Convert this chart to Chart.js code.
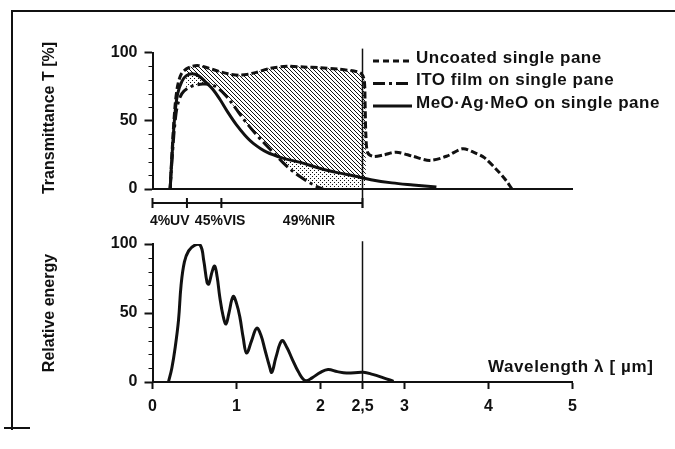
<!DOCTYPE html>
<html>
<head>
<meta charset="utf-8">
<script src="https://cdn.jsdelivr.net/npm/chart.js@4.4.1/dist/chart.umd.min.js"></script>
<style>
  body { margin: 0; background: #fff; }
  #wrap { position: relative; width: 675px; height: 449px; overflow: hidden; background: #fff; }
  #wrap canvas { position: absolute; left: 0; }
  #frame { position: absolute; left: 11px; top: 10px; width: 680px; height: 418px; border-top: 2px solid #111; border-left: 2px solid #111; }
  #stub { position: absolute; left: 4px; top: 427px; width: 26px; border-top: 2px solid #111; }
</style>
</head>
<body>
<div id="wrap">
  <div id="frame"></div>
  <div id="stub"></div>
  <canvas id="transChart" width="675" height="235" style="top:0"></canvas>
  <canvas id="energyChart" width="675" height="224" style="top:225px"></canvas>
</div>
<script>
// wavelength in um, transmittance in %
const uncoatedWl = [0.21, 0.24, 0.27, 0.30, 0.34, 0.40, 0.47, 0.55, 0.65, 0.78, 0.9, 1.04, 1.2, 1.4, 1.6, 1.8, 2.0, 2.2, 2.4, 2.48, 2.52, 2.53, 2.54, 2.56, 2.62, 2.75, 2.9, 3.1, 3.3, 3.5, 3.69, 3.82, 3.95, 4.1, 4.2, 4.28];
const uncoatedT = [0, 35, 62, 76, 84, 88, 90, 90.5, 89, 86.5, 84.5, 83.5, 85, 88.5, 90, 89.5, 89, 88, 86.5, 85, 80, 65, 40, 27, 24, 25, 27, 24, 21, 24, 29.5, 27, 23, 14, 7, 0];

const itoWl = [0.21, 0.24, 0.27, 0.30, 0.35, 0.42, 0.5, 0.6, 0.7, 0.78, 0.88, 0.98, 1.1, 1.22, 1.34, 1.45, 1.56, 1.66, 1.76, 1.86, 1.95, 2.03];
const itoT = [0, 28, 50, 62, 70, 74, 76, 77, 76.5, 74, 68, 60, 50, 41, 33, 26, 19, 13.5, 9, 5, 2, 0];

const meoWl = [0.21, 0.24, 0.27, 0.30, 0.35, 0.40, 0.47, 0.55, 0.64, 0.72, 0.8, 0.9, 1.0, 1.1, 1.2, 1.36, 1.56, 1.76, 2.0, 2.2, 2.4, 2.6, 2.85, 3.1, 3.38];
const meoT = [0, 32, 57, 70, 79, 83, 84.5, 83, 78, 73, 66, 56, 47, 39.5, 33.5, 27, 22.5, 19.5, 15, 12, 9.5, 6.8, 4.5, 3, 1.5];

// solar spectrum, relative energy
const energyWl = [0.19, 0.23, 0.27, 0.31, 0.34, 0.38, 0.43, 0.5, 0.57, 0.61, 0.65, 0.67, 0.71, 0.74, 0.77, 0.8, 0.84, 0.875, 0.91, 0.96, 1.0, 1.04, 1.08, 1.12, 1.18, 1.24, 1.29, 1.34, 1.39, 1.42, 1.47, 1.54, 1.6, 1.66, 1.74, 1.82, 1.9, 2.0, 2.09, 2.2, 2.31, 2.51, 2.62, 2.75, 2.87];
const energyVal = [0, 10, 25, 45, 70, 87, 95, 99, 99, 88, 72, 71, 80, 84, 76, 62, 48, 42, 50, 62, 57, 47, 32, 21, 30, 39, 34, 23, 12, 7, 18, 30, 25, 17, 7, 1, 3, 7, 9, 7.5, 6.5, 7, 5.5, 3, 0.5];

const seriesNames = ['Uncoated single pane', 'ITO film on single pane', 'MeO\u00B7Ag\u00B7MeO on single pane'];
const bandEdges = [0, 0.41, 0.82, 2.5];
const bandLabels = ['4%UV', '45%VIS', '49%NIR'];
const xTickValues = [0, 1, 2, 2.5, 3, 4, 5];
const xTickLabels = ['0', '1', '2', '2,5', '3', '4', '5'];

const ink = '#111';
const fontFamily = '"Liberation Sans", Arial, sans-serif';
Chart.defaults.font.family = fontFamily;
Chart.defaults.font.size = 16;
Chart.defaults.font.weight = 'bold';
Chart.defaults.color = ink;

const toPoints = (xs, ys) => xs.map((x, i) => ({x: x, y: ys[i]}));
const shadeStart = 0.4;
const shadeEnd = 2.55;

function makeHatch() {
    const c = document.createElement('canvas');
    c.width = 4; c.height = 4;
    const g = c.getContext('2d');
    g.strokeStyle = ink;
    g.lineWidth = 1.0;
    for (let k = -1; k <= 1; k++) {
        g.beginPath();
        g.moveTo(0, k * 4);
        g.lineTo(4, 4 + k * 4);
        g.stroke();
    }
    return g.createPattern(c, 'repeat');
}

function makeDots() {
    const c = document.createElement('canvas');
    c.width = 4; c.height = 4;
    const g = c.getContext('2d');
    g.fillStyle = ink;
    g.fillRect(0, 0, 1, 1);
    g.fillRect(2, 2, 1, 1);
    return g.createPattern(c, 'repeat');
}

const uncoatedPts = toPoints(uncoatedWl, uncoatedT);
const itoPts = toPoints(itoWl, itoT);
const meoPts = toPoints(meoWl, meoT);
const shadePts = uncoatedPts.filter(p => p.x >= shadeStart && p.x <= shadeEnd);
// ITO curve continued along the baseline so the dotted area reaches the band end
const itoFloor = itoPts.concat([{x: shadeEnd, y: 0}]);
const gapPts = meoPts.filter(p => p.x >= 0.55 && p.x <= 1.56);

const clear = 'rgba(0,0,0,0)';

function minorTicks(chart) {
    const {ctx, scales: {x, y}} = chart;
    ctx.save();
    ctx.strokeStyle = ink;
    ctx.lineWidth = 1;
    y.ticks.forEach(t => {
        if (t.value % 50 === 0) return;
        const py = Math.round(y.getPixelForValue(t.value)) + 0.5;
        ctx.beginPath();
        ctx.moveTo(x.left - 4, py);
        ctx.lineTo(x.left, py);
        ctx.stroke();
    });
    ctx.restore();
}

function setFont(ctx, size, spacing) {
    ctx.font = 'bold ' + size + 'px ' + fontFamily;
    if ('letterSpacing' in ctx) ctx.letterSpacing = spacing;
}

function rotatedTitle(ctx, text, cx, cy) {
    ctx.save();
    ctx.translate(cx, cy);
    ctx.rotate(-Math.PI / 2);
    ctx.textAlign = 'center';
    ctx.textBaseline = 'middle';
    ctx.fillStyle = ink;
    setFont(ctx, 16, '0px');
    ctx.fillText(text, 0, 0);
    ctx.restore();
}

const transDecor = {
    id: 'transDecor',
    afterDraw(chart) {
        const {ctx, scales: {x, y}} = chart;
        minorTicks(chart);
        ctx.save();
        ctx.strokeStyle = ink;
        ctx.fillStyle = ink;

        // band bar under the axis
        const bandEnd = bandEdges[bandEdges.length - 1];
        const xe = x.getPixelForValue(bandEnd);
        const barY = y.getPixelForValue(0) + 14;
        ctx.lineWidth = 1.5;
        ctx.beginPath();
        ctx.moveTo(xe, y.getPixelForValue(103));
        ctx.lineTo(xe, barY + 5);
        ctx.stroke();

        ctx.lineWidth = 2;
        ctx.beginPath();
        ctx.moveTo(x.getPixelForValue(bandEdges[0]), barY);
        ctx.lineTo(xe, barY);
        ctx.stroke();
        bandEdges.forEach(v => {
            const px = x.getPixelForValue(v);
            ctx.beginPath();
            ctx.moveTo(px, barY - 5);
            ctx.lineTo(px, barY + 5);
            ctx.stroke();
        });

        const labelShift = [0, 16, 17];
        setFont(ctx, 14, '0px');
        ctx.textAlign = 'center';
        ctx.textBaseline = 'middle';
        bandLabels.forEach((lab, i) => {
            const mid = (x.getPixelForValue(bandEdges[i]) + x.getPixelForValue(bandEdges[i + 1])) / 2;
            ctx.fillText(lab, mid + labelShift[i], barY + 18);
        });

        // legend
        const dashes = [[6, 4], [12, 4, 3, 4], []];
        const lx = 373, tx = 416;
        setFont(ctx, 17, '0.5px');
        ctx.textAlign = 'left';
        seriesNames.forEach((name, i) => {
            const ty = 58 + i * 22.5;
            ctx.lineWidth = 3;
            ctx.setLineDash(dashes[i]);
            ctx.beginPath();
            ctx.moveTo(lx, ty + 3);
            ctx.lineTo(tx - 4, ty + 3);
            ctx.stroke();
            ctx.setLineDash([]);
            ctx.fillText(name, tx, ty);
        });
        ctx.restore();

        rotatedTitle(ctx, 'Transmittance T [%]', 50, 118);
    }
};

const energyDecor = {
    id: 'energyDecor',
    afterDraw(chart) {
        const {ctx, scales: {x, y}} = chart;
        minorTicks(chart);
        ctx.save();
        ctx.strokeStyle = ink;
        ctx.fillStyle = ink;
        const xe = x.getPixelForValue(bandEdges[bandEdges.length - 1]);
        ctx.lineWidth = 1.5;
        ctx.beginPath();
        ctx.moveTo(xe, y.getPixelForValue(102));
        ctx.lineTo(xe, y.getPixelForValue(0));
        ctx.stroke();

        setFont(ctx, 17, '0.6px');
        ctx.textAlign = 'left';
        ctx.textBaseline = 'middle';
        ctx.fillText('Wavelength \u03BB [ \u00B5m]', 488, y.getPixelForValue(11));
        ctx.restore();

        rotatedTitle(ctx, 'Relative energy', 50, y.getPixelForValue(50));
    }
};

const yScaleBase = {
    type: 'linear',
    min: 0,
    max: 100,
    afterFit: s => { s.width = 152.5; },
    border: {display: true, width: 2, color: ink},
    grid: {
        drawOnChartArea: false,
        tickLength: 8,
        tickWidth: 2,
        tickColor: c => (c.tick && c.tick.value % 50 === 0) ? ink : clear
    },
    ticks: {
        stepSize: 10,
        autoSkip: false,
        padding: 7,
        callback: v => (v % 50 === 0 ? String(v) : '')
    }
};

const lineBase = {
    pointRadius: 0,
    borderColor: ink,
    borderWidth: 3,
    tension: 0.35,
    fill: false,
    order: 1
};

new Chart(document.getElementById('transChart'), {
    type: 'line',
    data: {
        datasets: [
            Object.assign({}, lineBase, {label: seriesNames[0], data: uncoatedPts, borderDash: [7, 3], tension: 0.3}),
            Object.assign({}, lineBase, {label: seriesNames[1], data: itoPts, borderDash: [12, 4, 3, 4]}),
            Object.assign({}, lineBase, {label: seriesNames[2], data: meoPts}),
            {label: 'itoFloor', data: itoFloor, pointRadius: 0, borderWidth: 0, borderColor: clear, tension: 0.35, fill: false, order: 20},
            {label: 'dots', data: shadePts, pointRadius: 0, borderWidth: 0, borderColor: clear, tension: 0.3,
                fill: {target: 3, above: makeDots(), below: clear}, order: 12},
            {label: 'hatch', data: shadePts, pointRadius: 0, borderWidth: 0, borderColor: clear, tension: 0.3,
                fill: {target: 2, above: makeHatch(), below: clear}, order: 11},
            {label: 'gap', data: gapPts, pointRadius: 0, borderWidth: 0, borderColor: clear, tension: 0.35,
                fill: {target: 1, above: clear, below: '#fff'}, order: 10}
        ]
    },
    options: {
        responsive: false,
        animation: false,
        devicePixelRatio: 1,
        layout: {padding: {top: 52.7, left: 0, right: 102.5, bottom: 0}},
        plugins: {legend: {display: false}, tooltip: {enabled: false}},
        scales: {
            x: {
                type: 'linear',
                min: 0,
                max: 5,
                afterFit: s => { s.height = 46; },
                border: {display: true, width: 2, color: ink},
                grid: {display: false},
                ticks: {display: false}
            },
            y: yScaleBase
        }
    },
    plugins: [transDecor]
});

new Chart(document.getElementById('energyChart'), {
    type: 'line',
    data: {
        datasets: [
            Object.assign({}, lineBase, {label: 'Relative energy', data: toPoints(energyWl, energyVal), tension: 0.4})
        ]
    },
    options: {
        responsive: false,
        animation: false,
        devicePixelRatio: 1,
        layout: {padding: {top: 19, left: 0, right: 102.5, bottom: 0}},
        plugins: {legend: {display: false}, tooltip: {enabled: false}},
        scales: {
            x: {
                type: 'linear',
                min: 0,
                max: 5,
                afterFit: s => { s.height = 67; },
                afterBuildTicks: s => { s.ticks = xTickValues.map(v => ({value: v})); },
                border: {display: true, width: 2, color: ink},
                grid: {drawOnChartArea: false, tickLength: 7, tickWidth: 2, tickColor: ink},
                ticks: {
                    autoSkip: false,
                    maxRotation: 0,
                    padding: 8,
                    callback: (v, i) => xTickLabels[i]
                }
            },
            y: yScaleBase
        }
    },
    plugins: [energyDecor]
});
</script>
</body>
</html>
